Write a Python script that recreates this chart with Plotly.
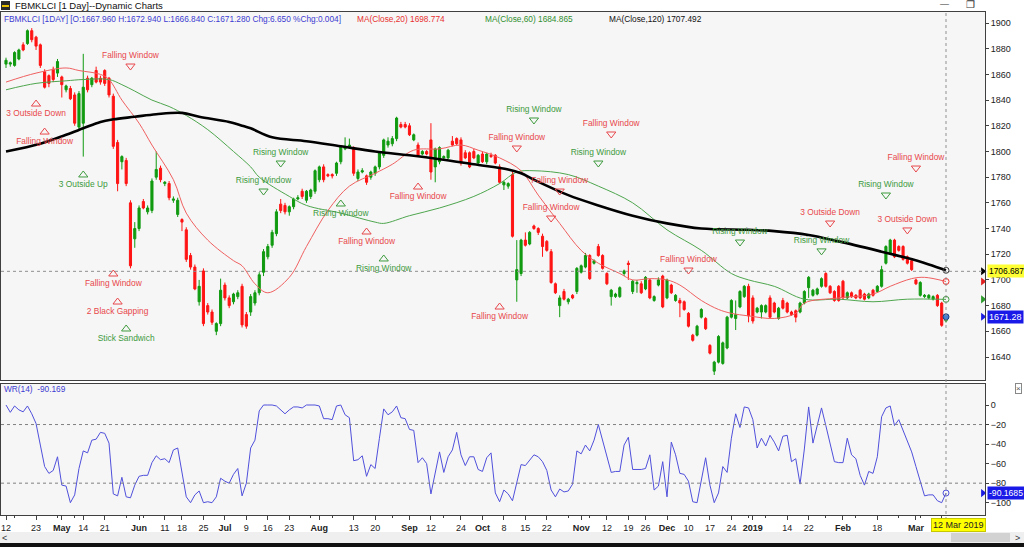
from decimal import Decimal, ROUND_HALF_UP

import pandas as pd
import plotly.graph_objects as go

FONT = "Liberation Sans, Arial, sans-serif"
W, H = 1024, 547

# trading calendar (Bursa Malaysia weekday holidays)
HOLIDAYS = ["2018-05-01", "2018-05-09", "2018-05-10", "2018-05-11", "2018-05-29",
            "2018-06-15", "2018-08-22", "2018-08-31", "2018-09-10", "2018-09-11",
            "2018-09-17", "2018-11-06", "2018-11-20", "2018-12-25", "2019-01-01",
            "2019-01-21", "2019-02-01", "2019-02-05", "2019-02-06"]
dates = pd.bdate_range("2018-04-12", "2019-03-12", freq="C", holidays=HOLIDAYS)

tick_dates = ["2018-04-12", "2018-04-23", "2018-05-02", "2018-05-14", "2018-05-21",
              "2018-06-01", "2018-06-11", "2018-06-18", "2018-06-25", "2018-07-02",
              "2018-07-09", "2018-07-16", "2018-07-23", "2018-08-01", "2018-08-13",
              "2018-08-20", "2018-09-03", "2018-09-12", "2018-09-24", "2018-10-01",
              "2018-10-08", "2018-10-15", "2018-10-22", "2018-11-01", "2018-11-12",
              "2018-11-19", "2018-11-26", "2018-12-03", "2018-12-10", "2018-12-17",
              "2018-12-24", "2019-01-02", "2019-01-14", "2019-01-22", "2019-02-04",
              "2019-02-18", "2019-03-01"]
tick_text = ["12", "23", "<b>May</b>", "14", "21", "<b>Jun</b>", "11", "18", "25",
             "<b>Jul</b>", "9", "16", "23", "<b>Aug</b>", "13", "20", "<b>Sep</b>", "12",
             "24", "<b>Oct</b>", "8", "15", "22", "<b>Nov</b>", "12", "19", "26",
             "<b>Dec</b>", "10", "17", "24", "<b>2019</b>", "14", "22", "<b>Feb</b>",
             "18", "<b>Mar</b>"]

opens = [
    1868, 1868, 1867, 1872, 1883, 1884, 1894, 1889, 1883, 1862,
    1859, 1864, 1861, 1858, 1848, 1849, 1844, 1819, 1822, 1857,
    1852, 1863, 1857, 1863, 1857, 1843, 1807, 1792, 1793, 1760,
    1732, 1740, 1761, 1753, 1754, 1780, 1787, 1775, 1775, 1762,
    1751, 1747, 1739, 1719, 1710, 1683, 1707, 1680, 1675, 1660,
    1666, 1696, 1686, 1683, 1687, 1695, 1673, 1675, 1682, 1690,
    1706, 1718, 1727, 1736, 1759, 1758, 1753, 1757, 1763, 1769,
    1762, 1765, 1769, 1778, 1788, 1782, 1782, 1783, 1792, 1802,
    1803, 1802, 1779, 1784, 1781, 1780, 1783, 1788, 1797, 1805,
    1806, 1810, 1821, 1821, 1820, 1809, 1805, 1798, 1800, 1809,
    1788, 1792, 1795, 1795, 1808, 1810, 1809, 1799, 1799, 1800,
    1791, 1798, 1792, 1797, 1797, 1788, 1774, 1773, 1782, 1700,
    1705, 1731, 1728, 1742, 1740, 1734, 1730, 1722, 1697, 1680,
    1691, 1683, 1688, 1691, 1706, 1710, 1719, 1713, 1726, 1719,
    1705, 1687, 1687, 1687, 1705, 1713, 1691, 1697, 1697, 1693,
    1700, 1684, 1696, 1703, 1686, 1696, 1684, 1684, 1683, 1674,
    1657, 1657, 1671, 1670, 1649, 1629, 1636, 1635, 1647, 1671,
    1670, 1679, 1687, 1695, 1686, 1675, 1675, 1675, 1686, 1682,
    1670, 1684, 1682, 1675, 1676, 1675, 1682, 1694, 1688, 1689,
    1695, 1705, 1695, 1691, 1695, 1699, 1686, 1690, 1688, 1692,
    1689, 1686, 1692, 1691, 1695, 1713, 1721, 1731, 1726, 1726,
    1718, 1715, 1700, 1688, 1687, 1686, 1685, 1688, 1682, 1667.96,
]
highs = [
    1873, 1870, 1878, 1880, 1885, 1895, 1896, 1890, 1884, 1864,
    1860, 1866, 1872, 1859, 1852, 1851, 1846, 1847, 1876, 1859,
    1858, 1866, 1859, 1864, 1858, 1845, 1809, 1797, 1795, 1762,
    1745, 1758, 1763, 1758, 1779, 1800, 1789, 1777, 1777, 1765,
    1764, 1748, 1741, 1721, 1712, 1700, 1709, 1682, 1677, 1667,
    1701, 1698, 1688, 1690, 1692, 1697, 1675, 1689, 1692, 1706,
    1724, 1728, 1739, 1755, 1763, 1760, 1758, 1764, 1766, 1771,
    1770, 1771, 1786, 1789, 1790, 1783, 1783, 1792, 1805, 1811,
    1810, 1804, 1786, 1787, 1782, 1785, 1789, 1800, 1810, 1811,
    1812, 1827, 1823, 1823, 1822, 1814, 1807, 1801, 1801, 1822,
    1803, 1804, 1797, 1802, 1812, 1811, 1811, 1801, 1800, 1802,
    1798, 1800, 1799, 1799, 1798, 1790, 1777, 1776, 1784, 1731,
    1732, 1737, 1738, 1743, 1741, 1736, 1731, 1724, 1698, 1688,
    1693, 1686, 1689, 1710, 1712, 1721, 1720, 1716, 1728, 1720,
    1706, 1693, 1690, 1695, 1708, 1715, 1700, 1700, 1699, 1703,
    1701, 1688, 1702, 1704, 1701, 1697, 1689, 1686, 1684, 1675,
    1658, 1665, 1678, 1671, 1650, 1637, 1657, 1652, 1672, 1685,
    1684, 1692, 1696, 1697, 1688, 1679, 1681, 1681, 1688, 1683,
    1679, 1686, 1683, 1676, 1677, 1683, 1692, 1703, 1693, 1694,
    1702, 1706, 1696, 1692, 1696, 1700, 1691, 1691, 1689, 1693,
    1690, 1690, 1693, 1696, 1711, 1727, 1732, 1732, 1727, 1727,
    1719, 1716, 1701, 1699, 1689, 1689, 1688, 1689, 1683, 1672.94,
]
lows = [
    1865, 1866, 1866, 1871, 1878, 1883, 1885, 1879, 1865, 1849,
    1850, 1854, 1858, 1842, 1846, 1840, 1820, 1817, 1796, 1846,
    1850, 1853, 1852, 1851, 1842, 1802, 1769, 1786, 1773, 1709,
    1725, 1738, 1755, 1751, 1752, 1778, 1776, 1773, 1762, 1760,
    1749, 1738, 1714, 1708, 1692, 1680, 1664, 1673, 1665, 1657,
    1664, 1684, 1678, 1681, 1685, 1663, 1662, 1672, 1680, 1688,
    1703, 1716, 1725, 1734, 1752, 1751, 1750, 1755, 1762, 1763,
    1760, 1763, 1767, 1776, 1776, 1780, 1779, 1781, 1790, 1801,
    1802, 1781, 1777, 1783, 1774, 1778, 1781, 1786, 1795, 1803,
    1804, 1808, 1818, 1818, 1812, 1808, 1796, 1797, 1797, 1778,
    1776, 1790, 1793, 1794, 1804, 1805, 1789, 1794, 1787, 1794,
    1789, 1791, 1790, 1795, 1790, 1775, 1770, 1771, 1733, 1683,
    1703, 1726, 1727, 1739, 1735, 1718, 1722, 1697, 1689, 1671,
    1684, 1681, 1685, 1689, 1705, 1709, 1700, 1712, 1718, 1708,
    1696, 1680, 1686, 1686, 1703, 1700, 1689, 1690, 1689, 1692,
    1685, 1683, 1695, 1678, 1685, 1689, 1683, 1671, 1676, 1663,
    1652, 1656, 1670, 1661, 1642, 1626, 1635, 1634, 1646, 1670,
    1661, 1678, 1686, 1667, 1666, 1674, 1670, 1674, 1670, 1674,
    1669, 1677, 1674, 1672, 1667, 1674, 1681, 1686, 1687, 1688,
    1694, 1694, 1689, 1683, 1683, 1685, 1685, 1686, 1685, 1685,
    1684, 1685, 1687, 1690, 1694, 1712, 1720, 1717, 1722, 1715,
    1712, 1707, 1696, 1687, 1686, 1685, 1684, 1679, 1663.5, 1666.84,
]
closes = [
    1871, 1869, 1877, 1879, 1879, 1894, 1887, 1882, 1867, 1850,
    1853, 1856, 1870, 1852, 1851, 1841, 1822, 1845, 1850, 1848,
    1857, 1854, 1854, 1853, 1844, 1804, 1775, 1796, 1775, 1711,
    1740, 1756, 1756, 1756, 1777, 1786, 1778, 1776, 1764, 1763,
    1762, 1745, 1716, 1710, 1693, 1695, 1666, 1675, 1667, 1666,
    1692, 1686, 1680, 1689, 1690, 1665, 1664, 1687, 1690, 1704,
    1722, 1726, 1737, 1753, 1754, 1753, 1757, 1763, 1764, 1765,
    1769, 1770, 1785, 1788, 1778, 1781, 1781, 1791, 1804, 1804,
    1805, 1783, 1784, 1785, 1776, 1784, 1788, 1799, 1809, 1808,
    1810, 1826, 1819, 1819, 1813, 1813, 1797, 1800, 1798, 1784,
    1802, 1803, 1796, 1801, 1805, 1806, 1791, 1795, 1788, 1795,
    1797, 1792, 1798, 1796, 1791, 1776, 1776, 1775, 1734, 1708,
    1731, 1727, 1737, 1740, 1737, 1726, 1723, 1698, 1690, 1686,
    1685, 1685, 1686, 1709, 1711, 1719, 1701, 1715, 1719, 1709,
    1697, 1692, 1689, 1694, 1707, 1712, 1699, 1698, 1690, 1702,
    1686, 1687, 1700, 1679, 1700, 1690, 1688, 1682, 1677, 1664,
    1653, 1664, 1677, 1662, 1643, 1636, 1656, 1651, 1671, 1684,
    1673, 1691, 1695, 1672, 1668, 1678, 1680, 1680, 1671, 1675,
    1678, 1678, 1675, 1673, 1671, 1682, 1691, 1702, 1692, 1693,
    1701, 1695, 1690, 1684, 1684, 1686, 1690, 1687, 1686, 1686,
    1685, 1689, 1688, 1695, 1708, 1726, 1731, 1718, 1723, 1716,
    1713, 1708, 1697, 1698, 1688, 1688, 1687, 1680, 1664.63, 1671.28,
]

# moving averages, read at sampled bars
ma20_idx = [0, 7, 14, 17, 22, 24, 27, 31, 34, 39, 42, 47, 53, 55, 58, 61, 66, 70, 75, 80,
            86, 90, 95, 101, 106, 110, 115, 120, 124, 129, 134, 138, 143, 146, 150, 154,
            157, 162, 166, 169, 173, 179, 184, 186, 194, 202, 206, 211, 214, 219]
ma20_val = [1854, 1861, 1865, 1863, 1860, 1856, 1840, 1822, 1805, 1778, 1752, 1731, 1715,
            1711, 1697, 1690, 1702, 1726, 1754, 1773, 1783, 1790, 1801, 1802, 1805, 1801,
            1795, 1785, 1766, 1744, 1723, 1713, 1705, 1700, 1701, 1700, 1696, 1684, 1677,
            1674, 1672, 1670, 1674, 1682, 1686, 1689, 1695, 1701, 1702, 1698.774]
ma60_idx = [0, 7, 14, 18, 24, 27, 30, 34, 38, 42, 47, 53, 57, 59, 66, 70, 78, 86, 88, 94,
            101, 109, 115, 119, 123, 131, 138, 146, 154, 162, 169, 173, 179, 186, 194, 202,
            210, 219]
ma60_val = [1848, 1853, 1855, 1856, 1856, 1852, 1847, 1840, 1835, 1828, 1817, 1800, 1788,
            1780, 1765, 1758, 1752, 1745, 1744, 1750, 1756, 1765, 1775, 1784, 1785, 1782,
            1773, 1760, 1739, 1723, 1705, 1700, 1695, 1685, 1685, 1683, 1685, 1684.865]
ma120_idx = [0, 8, 14, 18, 22, 25, 30, 35, 41, 45, 52, 55, 57, 62, 70, 78, 86, 94, 101, 109,
             117, 120, 123, 131, 138, 146, 154, 162, 173, 179, 187, 194, 204, 210, 215, 219]
ma120_val = [1800, 1806, 1813, 1818, 1823, 1825, 1827, 1829, 1830, 1827, 1823, 1820, 1818,
             1811, 1808, 1804, 1800, 1797, 1794, 1790, 1786, 1783, 1778, 1766, 1758, 1750,
             1744, 1740, 1739, 1738, 1735, 1730, 1722, 1717, 1712, 1707.492]

wr14 = [
    0, -7.5, -1, -5, -7, -1, -9, -19, -41, -63,
    -70, -67, -53, -82, -83, -100, -92, -65, -47, -49,
    -36, -35, -28, -29, -39, -91, -93, -74, -94, -95,
    -82, -73, -72, -72, -59, -52, -56, -55, -59, -46,
    -44, -67, -94, -100, -92, -88, -100, -99, -100, -94,
    -75, -78, -80, -71, -65, -93, -80, -44, -36, -6,
    0, 0, 0, -1, -5, -9, -5, -2, -2, -3,
    0, 0, 0, -1, -14, -14, -15, -1, 0, -10,
    -13, -57, -56, -52, -73, -61, -65, -34, -4, -10,
    -7, -1, -13, -14, -25, -26, -59, -54, -60, -91,
    -70, -48, -69, -53, -46, -28, -51, -62, -53, -53,
    -66, -68, -54, -49, -90, -99, -87, -91, -98, -79,
    -61, -62, -57, -51, -53, -58, -67, -87, -94, -86,
    -89, -88, -81, -47, -50, -41, -47, -36, -20, -36,
    -54, -69, -68, -68, -41, -33, -66, -66, -66, -65,
    -51, -87, -83, -58, -94, -38, -51, -70, -71, -78,
    -99, -100, -78, -54, -82, -100, -90, -63, -69, -34,
    -9, -23, -2, -3, -15, -44, -34, -42, -31, -38,
    -47, -32, -31, -58, -55, -81, -45, -2, -39, -21,
    -3, -21, -38, -58, -59, -59, -34, -51, -55, -72,
    -82, -68, -70, -53, -12, -3, -1, -21, -15, -26,
    -36, -48, -63, -79, -93, -92, -92, -98, -100, -90.1685,
]

# candlestick pattern markers
pat_text = ["Falling Window", "3 Outside Down", "Falling Window", "3 Outside Up",
            "Falling Window", "2 Black Gapping", "Stick Sandwich", "Rising Window",
            "Rising Window", "Rising Window", "Falling Window", "Rising Window",
            "Falling Window", "Falling Window", "Rising Window", "Falling Window",
            "Falling Window", "Rising Window", "Falling Window", "Falling Window",
            "Falling Window", "Rising Window", "Falling Window", "Rising Window",
            "3 Outside Down", "3 Outside Down", "Rising Window"]
pat_idx = [29, 7, 9, 18, 25, 26, 28, 64, 60, 78, 84, 88, 96, 115, 123, 119, 141, 138,
           129, 127, 159, 171, 212, 205, 192, 210, 190]
pat_level = [1866.5, 1836.9, 1815.1, 1781.7, 1704.6, 1682.8, 1661.8, 1791.0, 1769.2,
             1759.1, 1737.3, 1716.3, 1772.3, 1678.9, 1824.5, 1802.7, 1813.6, 1791.0,
             1769.2, 1748.2, 1707.7, 1729.5, 1787.1, 1766.1, 1744.3, 1738.9, 1722.6]
pat_down = [True, False, False, False, False, False, False, True, True, False, False,
            False, False, False, True, True, True, True, True, True, True, True, True,
            True, True, True, True]
pat_bull = [False, False, False, True, False, False, True, True, True, True, False, True,
            False, False, True, False, False, True, False, False, False, True, False,
            True, False, False, True]

last_close = closes[-1]
cross_level = 1706.687

GREEN = "#109a10"
RED = "#ff1414"
PAT_RED = "#e8474b"
PAT_GREEN = "#3d9a3d"
BLUE = "#3c3cd2"
WR_BLUE = "#5050dc"

x = list(range(len(closes)))
tick_idx = [dates.get_loc(pd.Timestamp(d)) for d in tick_dates]
week_idx = [i for i in range(1, len(dates)) if dates[i].weekday() < dates[i - 1].weekday()]

n = len(closes)
px_step = 940 / (n - 1)
x_lo = -5 / px_step
x_hi = (n - 1) + 39 / px_step


def py(v):
    return 1 - v / H


def fmt3(v):
    return str(Decimal(str(v)).quantize(Decimal("0.001"), rounding=ROUND_HALF_UP))


fig = go.Figure()

fig.add_trace(go.Candlestick(
    x=x, open=opens, high=highs, low=lows, close=closes,
    increasing=dict(line=dict(color=GREEN, width=1), fillcolor=GREEN),
    decreasing=dict(line=dict(color=RED, width=1), fillcolor=RED),
    whiskerwidth=0, hoverinfo="skip", showlegend=False,
))
fig.add_trace(go.Scatter(x=ma60_idx, y=ma60_val, mode="lines", line=dict(color="#4ea64e", width=1, shape="spline"),
                         hoverinfo="skip", showlegend=False))
fig.add_trace(go.Scatter(x=ma20_idx, y=ma20_val, mode="lines", line=dict(color="#f06060", width=1, shape="spline"),
                         hoverinfo="skip", showlegend=False))
fig.add_trace(go.Scatter(x=ma120_idx, y=ma120_val, mode="lines", line=dict(color="#000000", width=2.6, shape="spline"),
                         hoverinfo="skip", showlegend=False))

pat_col = [PAT_GREEN if b else PAT_RED for b in pat_bull]
fig.add_trace(go.Scatter(
    x=pat_idx, y=pat_level, mode="markers+text", text=pat_text,
    textposition=["top center" if d else "bottom center" for d in pat_down],
    marker=dict(symbol=["triangle-down-open" if d else "triangle-up-open" for d in pat_down],
                size=8, color=pat_col, line=dict(width=1, color=pat_col)),
    textfont=dict(family=FONT, size=8.4, color=pat_col),
    cliponaxis=False, hoverinfo="skip", showlegend=False,
))

# last-value markers
fig.add_trace(go.Scatter(
    x=[n - 1] * 3, y=[ma120_val[-1], ma20_val[-1], ma60_val[-1]], mode="markers",
    marker=dict(symbol="circle-open", size=6, color=["#333333", "#f03030", "#3d9a3d"], line=dict(width=1)),
    hoverinfo="skip", showlegend=False, cliponaxis=False,
))
fig.add_trace(go.Scatter(
    x=[n - 1], y=[last_close], mode="markers",
    marker=dict(symbol="circle", size=6, color="#4a7fd0", line=dict(width=1, color="#1a3a80")),
    hoverinfo="skip", showlegend=False, cliponaxis=False,
))
fig.add_trace(go.Scatter(
    x=[x_hi - 0.5] * 4, y=[cross_level, ma20_val[-1], ma60_val[-1], last_close], mode="markers",
    marker=dict(symbol="triangle-right", size=7, color=["#000000", "#e02020", "#2a9a2a", "#1a1ae0"]),
    hoverinfo="skip", showlegend=False, cliponaxis=False,
))

# Williams %R pane
fig.add_trace(go.Scatter(x=x, y=wr14, mode="lines", line=dict(color=WR_BLUE, width=1),
                         xaxis="x2", yaxis="y2", hoverinfo="skip", showlegend=False))
fig.add_trace(go.Scatter(x=[n - 1], y=[wr14[-1]], mode="markers", xaxis="x2", yaxis="y2",
                         marker=dict(symbol="circle-open", size=6, color=WR_BLUE, line=dict(width=1)),
                         hoverinfo="skip", showlegend=False, cliponaxis=False))
fig.add_trace(go.Scatter(x=[x_hi - 0.5], y=[wr14[-1]], mode="markers", xaxis="x2", yaxis="y2",
                         marker=dict(symbol="triangle-right", size=7, color="#1a1ae0"),
                         hoverinfo="skip", showlegend=False, cliponaxis=False))

axis_common = dict(showgrid=False, zeroline=False, showline=True, mirror=True,
                   linecolor="#404040", linewidth=1)
x_dom = [1 / W, 985 / W]

fig.update_layout(
    width=W, height=H, autosize=False,
    margin=dict(l=0, r=0, t=0, b=0),
    paper_bgcolor="#ffffff", plot_bgcolor="#f6f6f6",
    font=dict(family=FONT, size=9, color="#222222"),
    showlegend=False,
    xaxis=dict(domain=x_dom, range=[x_lo, x_hi], anchor="y", showticklabels=False,
               ticks="", rangeslider=dict(visible=False), **axis_common),
    yaxis=dict(domain=[py(380), py(12)], range=[1900 - (380 - 23) / 1.2846, 1900 - (12 - 23) / 1.2846],
               side="right", anchor="x", tickvals=list(range(1640, 1901, 20)),
               ticks="outside", ticklen=3, tickcolor="#404040",
               tickfont=dict(size=9, color="#222222"), **axis_common),
    xaxis2=dict(domain=x_dom, range=[x_lo, x_hi], anchor="y2", matches="x",
                tickmode="array", tickvals=tick_idx, ticktext=tick_text,
                ticks="outside", ticklen=4, tickcolor="#404040",
                minor=dict(tickmode="array", tickvals=week_idx, ticks="outside", ticklen=2, tickcolor="#404040"),
                tickfont=dict(size=9, color="#222222"), **axis_common),
    yaxis2=dict(domain=[py(515), py(384)], range=[-(515 - 405) / 0.977, (405 - 384) / 0.977],
                side="right", anchor="x2", tickvals=[0, -20, -40, -60, -80, -100],
                ticks="outside", ticklen=3, tickcolor="#404040",
                tickfont=dict(size=9, color="#222222"), **axis_common),
)

shapes = [
    # crosshair
    dict(type="line", xref="x", yref="y", x0=x_lo, x1=x_hi, y0=cross_level, y1=cross_level,
         line=dict(color="#909090", width=1, dash="dot")),
    dict(type="line", xref="x", yref="paper", x0=n - 1, x1=n - 1, y0=py(520), y1=py(12),
         line=dict(color="#909090", width=1, dash="dot")),
    dict(type="line", xref="x2", yref="y2", x0=x_lo, x1=x_hi, y0=-20, y1=-20,
         line=dict(color="#808080", width=1, dash="dot")),
    dict(type="line", xref="x2", yref="y2", x0=x_lo, x1=x_hi, y0=-80, y1=-80,
         line=dict(color="#808080", width=1, dash="dot")),
    # scrollbar and window bottom
    dict(type="rect", xref="paper", yref="paper", x0=0, x1=1, y0=py(543), y1=py(532),
         fillcolor="#efefef", line=dict(width=0), layer="below"),
    dict(type="rect", xref="paper", yref="paper", x0=951 / W, x1=1010 / W, y0=py(542), y1=py(533),
         fillcolor="#d2d2d2", line=dict(width=0)),
    dict(type="rect", xref="paper", yref="paper", x0=0, x1=1, y0=0, y1=py(543),
         fillcolor="#111111", line=dict(width=0)),
    # title-bar icon
    dict(type="rect", xref="paper", yref="paper", x0=1 / W, x1=10 / W, y0=py(10), y1=py(1),
         fillcolor="#2a2a2a", line=dict(width=0)),
    dict(type="rect", xref="paper", yref="paper", x0=2 / W, x1=9 / W, y0=py(7), y1=py(5),
         fillcolor="#e8c000", line=dict(width=0)),
]
fig.update_layout(shapes=shapes)


def note(text, px_x, px_y, color="#222222", size=9, anchor="left", **kw):
    fig.add_annotation(text=text, xref="paper", yref="paper", x=px_x / W, y=py(px_y),
                       xanchor=anchor, yanchor="middle", showarrow=False,
                       font=dict(family=FONT, size=size, color=color), **kw)


note("FBMKLCI [1 Day]--Dynamic Charts", 13, 5.5, "#111111", 9.5)
note("—", 944, 4, "#333333", 9, anchor="center")
note("❐", 970, 4, "#333333", 10, anchor="center")

o, h, l, c = opens[-1], highs[-1], lows[-1], closes[-1]
chg = c - closes[-2]
note(f"FBMKLCI [1DAY] [O:{o:.3f} H:{h:.3f} L:{l:.3f} C:{c:.3f} Chg:{chg:.3f} %Chg:{chg / closes[-2]:.3f}]",
     2, 19, BLUE, 8.3)
note(f"MA(Close,20) {ma20_val[-1]:.3f}", 355, 19, "#e83030", 8.3)
note(f"MA(Close,60) {ma60_val[-1]:.3f}", 483, 19, "#2f8f2f", 8.3)
note(f"MA(Close,120) {ma120_val[-1]:.3f}", 607, 19, "#111111", 8.3)
note(f"WR(14)  {fmt3(wr14[-1])}", 2, 389, BLUE, 8.3)

note(f"{cross_level:.3f}", 987, 271, "#000000", 8.4, bgcolor="#ffff33", borderpad=1)
note(f"{last_close:.2f}", 987, 317, "#ffffff", 9, bgcolor="#1a1ae8", borderpad=1)
note(f"{wr14[-1]:.4f}", 987, 493, "#ffffff", 8.6, bgcolor="#1a1ae8", borderpad=1)
note("12 Mar 2019", 958, 524.5, "#222222", 9, anchor="center", bgcolor="#ffff00",
     bordercolor="#c8c800", borderwidth=1, borderpad=1)
note("×", 1018, 388, "#555555", 8, anchor="center", bordercolor="#888888", borderwidth=1, borderpad=0)
note("<", 4, 537.5, "#333333", 9, anchor="center")
note(">", 1017, 537.5, "#333333", 9, anchor="center")

fig.write_html("out.html", config={"displayModeBar": False},
               post_script="document.body.style.margin='0px';")
